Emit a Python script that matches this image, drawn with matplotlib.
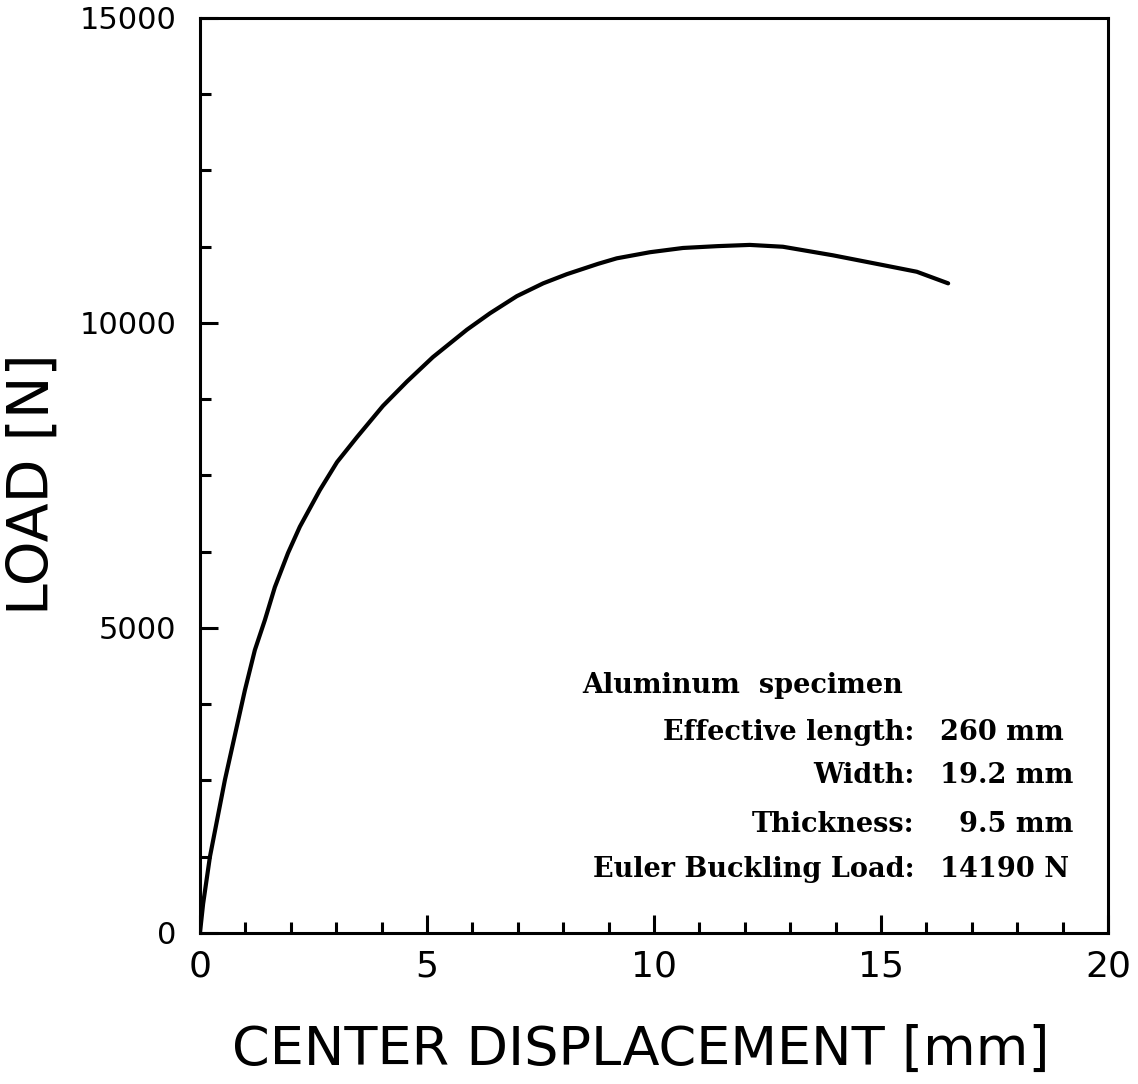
#!/usr/bin/env python3

import matplotlib
matplotlib.use("Agg")
import numpy as np
from matplotlib import pyplot as plt
from matplotlib.ticker import MultipleLocator

# load-displacement curve
displacement = [0.0, 0.07, 0.22, 0.55, 0.99, 1.21, 1.43, 1.65, 1.94, 2.20,
                2.64, 3.02, 3.46, 4.03, 4.56, 5.13, 5.88, 6.39, 6.98, 7.56,
                8.08, 8.77, 9.18, 9.91, 10.64, 11.4, 12.11, 12.84, 13.94,
                15.04, 15.79, 16.48]
load = [0, 480, 1250, 2510, 3980, 4640, 5130, 5670, 6230, 6660,
        7260, 7720, 8130, 8640, 9040, 9440, 9890, 10160, 10440, 10650,
        10800, 10970, 11060, 11160, 11230, 11260, 11280, 11250, 11110,
        10950, 10840, 10650]

x_ticks = [0, 5, 10, 15, 20]
y_ticks = [0, 5000, 10000, 15000]

spec_title = "Aluminum  specimen"
spec_names = ["Effective length:", "Width:", "Thickness:", "Euler Buckling Load:"]
spec_values = ["260 mm", "19.2 mm", "  9.5 mm", "14190 N"]


def plot_curve():
    fig = plt.figure(figsize=(11.38, 10.84), dpi=100, facecolor="white")
    ax = fig.add_axes([0.1757, 0.1393, 0.7979, 0.8441])

    ax.plot(displacement, load, color="black", linewidth=3.0,
            solid_capstyle="round", solid_joinstyle="round")

    ax.set_xlim(0, 20)
    ax.set_ylim(0, 15000)
    ax.set_xticks(x_ticks)
    ax.set_yticks(y_ticks)
    ax.xaxis.set_minor_locator(MultipleLocator(1))
    ax.yaxis.set_minor_locator(MultipleLocator(1250))

    for side in ax.spines.values():
        side.set_linewidth(2.2)
    ax.tick_params(which="both", direction="in", top=False, right=False,
                   width=2.2)
    ax.tick_params(which="major", length=13)
    ax.tick_params(which="minor", length=8)
    ax.tick_params(axis="x", which="major", pad=12, labelsize=26)
    ax.tick_params(axis="y", which="major", pad=17, labelsize=22)

    ax.text(0.486, -0.128, "CENTER DISPLACEMENT [mm]", transform=ax.transAxes,
            ha="center", va="center", fontsize=39)
    ax.text(-0.184, 0.49, "LOAD [N]", transform=ax.transAxes, rotation=90,
            ha="center", va="center", fontsize=41)

    serif = dict(family="DejaVu Serif", weight="bold", fontsize=19.5,
                 transform=ax.transAxes, va="baseline")
    ax.text(0.421, 0.262, spec_title, ha="left", **serif)
    rows = [0.211, 0.164, 0.110, 0.061]
    for y, name, value in zip(rows, spec_names, spec_values):
        ax.text(0.787, y, name, ha="right", **serif)
        ax.text(0.815, y, value, ha="left", **serif)

    fig.savefig("out.png", dpi=100, facecolor="white")
    return None


plot_curve()
